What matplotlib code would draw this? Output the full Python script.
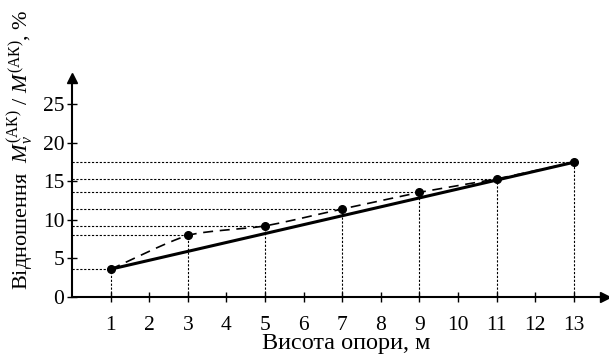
import numpy as np
import matplotlib
matplotlib.use("Agg")
import matplotlib.pyplot as plt

plt.rcParams['font.family'] = ['Liberation Serif', 'DejaVu Serif']
plt.rcParams['mathtext.fontset'] = 'custom'
plt.rcParams['mathtext.rm'] = 'Liberation Serif'
plt.rcParams['mathtext.it'] = 'Liberation Serif:italic'

heights = [1, 3, 5, 7, 9, 11, 13]
ratio = [3.6, 8.0, 9.2, 11.4, 13.55, 15.3, 17.45]
xticks = list(range(1, 14))
yticks = [0, 5, 10, 15, 20, 25]
xlabel = "Висота опори, м"
ylabel = r"Відношення  $M_v^{(\mathrm{АК})}$ / $M^{(\mathrm{АК})}$, %"

W, H = 609, 356
fig = plt.figure(figsize=(W / 100, H / 100), dpi=100)
x0, x1, y0, y1 = 72, 605, 297, 78
ax = fig.add_axes([x0 / W, 1 - y0 / H, (x1 - x0) / W, (y0 - y1) / H])
ax.set_xlim(0, (x1 - x0) / 38.6)
ax.set_ylim(0, (y0 - y1) / 7.72)

# guide lines
for xv, yv in zip(heights, ratio):
    ax.plot([0, xv], [yv, yv], color='black', lw=0.8, ls=(0, (2, 1.5)))
    ax.plot([xv, xv], [0, yv], color='black', lw=0.8, ls=(0, (2, 1.5)))

# gently smoothed dashed curve through the data (Hermite rendering)
px = np.array(heights, float)
py = np.array(ratio, float)
slopes = np.gradient(py, px)
cx, cy = [], []
t = np.linspace(0, 1, 30)
for i in range(len(px) - 1):
    h = px[i + 1] - px[i]
    h00 = 2 * t**3 - 3 * t**2 + 1
    h10 = t**3 - 2 * t**2 + t
    h01 = -2 * t**3 + 3 * t**2
    h11 = t**3 - t**2
    sec = (py[i + 1] - py[i]) / h
    m0 = 0.6 * slopes[i] + 0.4 * sec
    m1 = 0.6 * slopes[i + 1] + 0.4 * sec
    cx.extend(px[i] + h * t)
    cy.extend(h00 * py[i] + h10 * h * m0 + h01 * py[i + 1] + h11 * h * m1)
ax.plot(cx, cy, color='black', lw=1.2, ls=(0, (6, 4)))

# straight solid line
ax.plot([heights[0], heights[-1]], [ratio[0], ratio[-1]], color='black', lw=2.2)
ax.plot(heights, ratio, 'o', color='black', ms=5.5, zorder=5)

for s in ['top', 'right']:
    ax.spines[s].set_visible(False)
for s in ['left', 'bottom']:
    ax.spines[s].set_linewidth(1.5)
ax.plot(1, 0, '>', color='black', ms=7, transform=ax.transAxes, clip_on=False)
ax.plot(0, 1, '^', color='black', ms=7, transform=ax.transAxes, clip_on=False)

ax.set_xticks(xticks)
ax.set_yticks(yticks)
ax.tick_params(direction='inout', length=7, width=1, labelsize=15.5)
ax.tick_params(axis='x', pad=10)
ax.tick_params(axis='y', pad=2)
ax.set_facecolor('none')

fig.text(346 / W, 1 - 344 / H, xlabel, ha='center', va='center', fontsize=17.5)
fig.text(21 / W, 1 - 150 / H, ylabel, rotation=90, ha='center', va='center', fontsize=16)

fig.savefig("out.png", dpi=100)
